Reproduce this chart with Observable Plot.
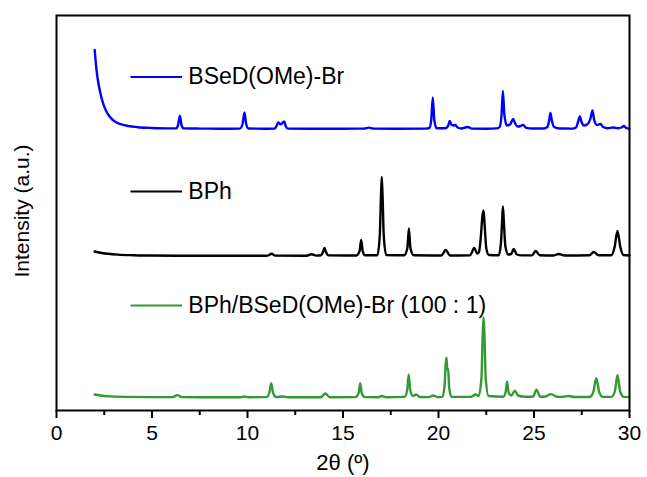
<!DOCTYPE html>
<html>
<head>
<meta charset="utf-8">
<script src="https://cdn.jsdelivr.net/npm/d3@7"></script>
<script src="https://cdn.jsdelivr.net/npm/@observablehq/plot@0.6"></script>
<style>
  body { margin: 0; background: #fff; }
</style>
</head>
<body>
<div id="chart"></div>
<script>
// Powder XRD patterns, stacked with a vertical offset per sample.
const seriesNames = ["BSeD(OMe)-Br", "BPh", "BPh/BSeD(OMe)-Br (100 : 1)"];
const seriesColors = ["#0000ff", "#000000", "#339933"];
const seriesOffsets = [281.5, 154.5, 13];

const xTicks = [0, 5, 10, 15, 20, 25, 30];
const xMinorTicks = [2.5, 7.5, 12.5, 17.5, 22.5, 27.5];

// [2θ (deg), intensity above the pattern's own baseline (a.u.)]
const bsedPattern = [
  [2.0,79],[2.04,70],[2.09,60],[2.15,51],[2.22,43],[2.32,34],[2.45,25],[2.6,18],[2.8,12],[3.05,7.5],
  [3.35,4.8],[3.75,3],[4.25,1.8],[5.0,1.0],[5.8,0.6],[6.25,0.6],[6.36,3.5],[6.46,13.3],[6.55,3.5],[6.66,0.6],
  [7.5,0.4],[8.6,0.3],[9.6,0.4],[9.74,5],[9.84,16.6],[9.93,5],[10.05,0.5],[11.0,0.3],[11.42,0.4],[11.52,3.0],
  [11.61,6.6],[11.74,4.6],[11.86,6.8],[11.92,7.6],[12.0,3.0],[12.12,0.4],[13.5,0.3],[15.0,0.3],[16.1,0.4],[16.35,1.4],
  [16.6,0.4],[17.8,0.2],[19.3,0.4],[19.52,1],[19.62,9],[19.7,31.5],[19.78,9],[19.9,0.8],[20.35,0.8],[20.5,3],
  [20.59,8],[20.67,4.5],[20.76,3.5],[20.89,4],[21.0,1.5],[21.2,0.5],[21.53,2],[21.75,0.4],[22.5,0.3],[23.05,0.6],
  [23.2,2],[23.3,14],[23.37,38],[23.45,14],[23.58,3.5],[23.75,4.5],[23.84,8],[23.91,10],[24.0,6],[24.15,2.5],
  [24.3,3],[24.43,4],[24.6,1.2],[24.9,0.5],[25.5,0.5],[25.7,2],[25.79,8],[25.86,16],[25.94,8],[26.05,2],
  [26.35,0.5],[27.0,0.4],[27.2,1.5],[27.32,8],[27.4,12.5],[27.49,7],[27.62,3.5],[27.78,4.5],[27.95,10],[28.06,18.5],
  [28.15,9],[28.3,4],[28.48,5],[28.62,2],[28.85,0.8],[29.15,1.5],[29.4,0.8],[29.58,1.5],[29.7,3],[29.82,1.2],[30,0.4]
];

const bphPattern = [
  [2.0,4.5],[2.3,3.2],[2.7,2.2],[3.2,1.4],[4.0,0.8],[5.0,0.5],[6.5,0.3],[8.0,0.2],[10.8,0.2],[11.05,0.4],
  [11.26,2.3],[11.45,0.4],[13.1,0.3],[13.35,1.8],[13.6,0.4],[13.85,0.8],[13.95,4],[14.03,8],[14.11,4],[14.22,0.7],
  [15.7,0.5],[15.87,5],[15.95,16],[16.03,5],[16.15,0.7],[16.8,0.7],[16.93,22],[16.98,55],[17.03,79],[17.08,55],
  [17.13,22],[17.26,1],[18.2,0.7],[18.37,8],[18.45,27.5],[18.53,8],[18.7,0.7],[20.15,0.5],[20.38,6],[20.6,0.5],
  [21.65,0.7],[21.88,8],[22.02,2.5],[22.12,4],[22.22,20],[22.3,40],[22.36,45.5],[22.42,30],[22.5,8],[22.64,1],
  [23.15,0.7],[23.27,13],[23.33,35],[23.37,49.5],[23.42,35],[23.5,10],[23.65,1.5],[23.8,2],[23.94,7],[24.1,1.5],
  [24.35,0.6],[24.9,0.7],[25.09,5],[25.3,0.7],[26.0,0.5],[26.3,2],[26.6,0.5],[27.9,0.8],[28.13,4],[28.38,0.8],
  [29.05,0.8],[29.22,9],[29.37,25],[29.52,9],[29.68,1],[30,0.5]
];

const mixPattern = [
  [2.0,3],[2.3,2],[2.8,1.1],[3.5,0.6],[5.0,0.4],[6.1,0.4],[6.33,2.4],[6.55,0.4],[8.0,0.2],[9.65,0.3],
  [9.84,1],[10.05,0.3],[11.0,0.4],[11.14,4.5],[11.24,14.3],[11.34,4.5],[11.5,0.5],[11.87,1],[12.1,0.3],[13.85,0.3],
  [14.08,4],[14.3,0.3],[15.65,0.4],[15.82,4.5],[15.9,14.3],[15.98,4.5],[16.14,0.4],[16.85,0.3],[17.04,1.5],[17.25,0.3],
  [18.22,0.6],[18.36,7.5],[18.44,22.9],[18.52,7.5],[18.66,1.5],[18.83,3],[19.02,0.5],[19.5,0.4],[19.72,2],[19.95,0.4],
  [20.2,0.6],[20.32,12],[20.38,35],[20.42,39.8],[20.46,28],[20.5,29],[20.56,10],[20.68,0.8],[21.7,0.6],[21.93,3],
  [22.1,1.5],[22.25,20],[22.31,60],[22.36,80.4],[22.41,60],[22.47,20],[22.62,1.5],[23.38,0.7],[23.51,5],[23.59,16.1],
  [23.67,5],[23.82,2],[24.0,6.8],[24.16,2],[24.5,0.8],[24.95,0.8],[25.13,7.8],[25.32,0.8],[25.6,1],[25.9,3.4],
  [26.2,0.8],[26.5,0.6],[26.82,1.5],[27.1,0.5],[27.9,0.5],[28.1,5],[28.26,19.4],[28.42,5],[28.6,0.6],[29.05,0.6],
  [29.23,6],[29.37,22.2],[29.51,6],[29.7,0.6],[30,0.4]
];

const patterns = [bsedPattern, bphPattern, mixPattern];

// Long-format table: one row per point, lifted by the sample's offset.
const rows = [];
patterns.forEach((pattern, i) => {
  pattern.forEach(([angle, value]) => {
    rows.push({series: seriesNames[i], angle, intensity: value + seriesOffsets[i]});
  });
});

// In-plot legend layout (x in degrees, y in plot intensity units).
const legendLineStart = 3.9;
const legendLineEnd = 6.6;
const legendTextStart = 6.9;
const legendRows = seriesNames.map((name, i) => ({name, y: [333.5, 219, 105][i]}));

const chart = Plot.plot({
  width: 647,
  height: 477,
  marginLeft: 56,
  marginRight: 18,
  marginTop: 15,
  marginBottom: 67,
  style: {fontFamily: "'Liberation Sans', Arial, sans-serif", background: "#fff", color: "#000"},
  x: {domain: [0, 30]},
  y: {domain: [0, 395], axis: null},
  color: {domain: seriesNames, range: seriesColors},
  marks: [
    Plot.line(rows, {x: "angle", y: "intensity", z: "series", stroke: "series", strokeWidth: 2.4, curve: "monotone-x"}),
    Plot.ruleY(legendRows, {y: "y", x1: legendLineStart, x2: legendLineEnd, stroke: "name", strokeWidth: 2.2}),
    Plot.text(legendRows, {y: "y", x: legendTextStart, text: "name", textAnchor: "start", fontSize: 23, fill: "#000"}),
    Plot.axisX(xMinorTicks, {tickSize: 5, tickFormat: () => "", strokeWidth: 2, label: null}),
    Plot.axisX(xTicks, {tickSize: 8, tickPadding: 7, fontSize: 21, strokeWidth: 2, label: null}),
    Plot.frame({stroke: "#000", strokeWidth: 2}),
    Plot.text(["2θ (º)"], {text: d => d, frameAnchor: "bottom", lineAnchor: "middle", textAnchor: "middle", dy: 52, fontSize: 22, fill: "#000"}),
    Plot.text(["Intensity (a.u.)"], {text: d => d, frameAnchor: "left", lineAnchor: "middle", textAnchor: "middle", dx: -34, dy: -2, rotate: -90, fontSize: 21, fill: "#000"})
  ]
});

document.getElementById("chart").append(chart);
</script>
</body>
</html>
